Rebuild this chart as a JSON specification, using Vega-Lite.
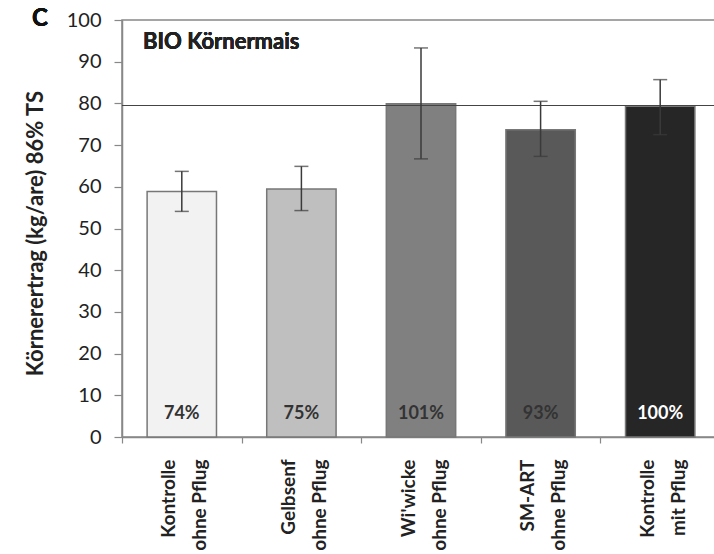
{
  "$schema": "https://vega.github.io/schema/vega-lite/v6.json",
  "autosize": {"type": "none"},
  "width": 598,
  "height": 417,
  "padding": {"left": 122, "top": 20, "right": 0, "bottom": 117},
  "background": "white",
  "data": {"values": [
    {"cat": "Kontrolle|ohne Pflug", "value": 58.9, "lo": 54.1, "hi": 63.7, "pct": "74%"},
    {"cat": "Gelbsenf|ohne Pflug", "value": 59.5, "lo": 54.3, "hi": 64.9, "pct": "75%"},
    {"cat": "Wi'wicke|ohne Pflug", "value": 79.9, "lo": 66.7, "hi": 93.3, "pct": "101%"},
    {"cat": "SM-ART|ohne Pflug", "value": 73.7, "lo": 67.3, "hi": 80.5, "pct": "93%"},
    {"cat": "Kontrolle|mit Pflug", "value": 79.3, "lo": 72.5, "hi": 85.7, "pct": "100%"}
  ]},
  "encoding": {
    "x": {"field": "cat", "type": "nominal", "sort": null,
      "scale": {"paddingInner": 0, "paddingOuter": 0},
      "axis": {"title": null, "labelExpr": "split(datum.label, '|')", "labelAngle": -90, "labelAlign": "right", "labelBaseline": "middle",
        "labelLineHeight": 31, "labelFont": "Lato", "labelFontSize": 19, "labelFontWeight": "bold", "labelColor": "#222",
        "labelPadding": 16, "labelOffset": -13, "tickSize": 6, "tickBand": "extent", "domainColor": "#888", "domainWidth": 1.5, "tickColor": "#888", "tickWidth": 1.2,
        "labelOverlap": false, "labelBound": false, "labelLimit": 0}}
  },
  "layer": [
    {"mark": {"type": "bar", "width": {"band": 0.58}, "stroke": "#777", "strokeWidth": 1.5},
     "encoding": {
       "y": {"field": "value", "type": "quantitative", "scale": {"domain": [0, 100], "nice": false},
         "axis": {"values": [0,10,20,30,40,50,60,70,80,90,100], "grid": false, "title": "Körnerertrag (kg/are) 86% TS",
           "titleFont": "Lato", "titleFontSize": 22, "titleFontWeight": "bold", "titleColor": "#222", "titleAngle": -90,
           "titleX": -87, "titleY": 213, "titleAlign": "center", "titleBaseline": "middle",
           "labelFont": "Lato", "labelFontSize": 20, "labelColor": "#222", "labelPadding": 13, "tickSize": 8,
           "domainColor": "#888", "domainWidth": 1.5, "tickColor": "#888", "tickWidth": 1.2}},
       "color": {"field": "cat", "type": "nominal", "sort": null, "legend": null,
         "scale": {"domain": ["Kontrolle|ohne Pflug", "Gelbsenf|ohne Pflug", "Wi'wicke|ohne Pflug", "SM-ART|ohne Pflug", "Kontrolle|mit Pflug"],
           "range": ["#f2f2f2", "#bfbfbf", "#808080", "#595959", "#262626"]}}
     }},
    {"mark": {"type": "rule", "color": "#444", "strokeWidth": 1.2},
     "encoding": {"x": null, "y": {"datum": 79.5, "type": "quantitative"}}},
    {"mark": {"type": "rule", "color": "#3a3a3a", "strokeWidth": 1.5},
     "encoding": {"y": {"field": "lo", "type": "quantitative"}, "y2": {"field": "hi"}}},
    {"mark": {"type": "tick", "color": "#3a3a3a", "thickness": 1.5, "size": 14},
     "encoding": {"y": {"field": "lo", "type": "quantitative"}}},
    {"mark": {"type": "tick", "color": "#3a3a3a", "thickness": 1.5, "size": 14},
     "encoding": {"y": {"field": "hi", "type": "quantitative"}}},
    {"mark": {"type": "text", "font": "Lato", "fontSize": 18, "fontWeight": "bold", "baseline": "middle", "align": "center"},
     "encoding": {"y": {"datum": 5.5, "type": "quantitative"}, "text": {"field": "pct"},
       "color": {"condition": {"test": "datum.pct == '100%'", "value": "#ffffff"}, "value": "#333333"}}},
    {"mark": {"type": "text", "font": "Lato", "fontSize": 22, "fontWeight": "bold", "baseline": "middle", "align": "left", "dx": 21, "color": "#222", "text": "BIO Körnermais"},
     "encoding": {"x": {"datum": "Kontrolle|ohne Pflug", "type": "nominal", "bandPosition": 0}, "y": {"datum": 94.7, "type": "quantitative"}}},
    {"mark": {"type": "text", "font": "Lato", "fontSize": 24, "fontWeight": "bold", "baseline": "middle", "align": "center", "dx": -82, "dy": -1, "color": "#111", "text": "C"},
     "encoding": {"x": {"datum": "Kontrolle|ohne Pflug", "type": "nominal", "bandPosition": 0}, "y": {"datum": 100, "type": "quantitative"}}}
  ],
  "config": {"view": {"stroke": "#888", "strokeWidth": 1.5}}
}
